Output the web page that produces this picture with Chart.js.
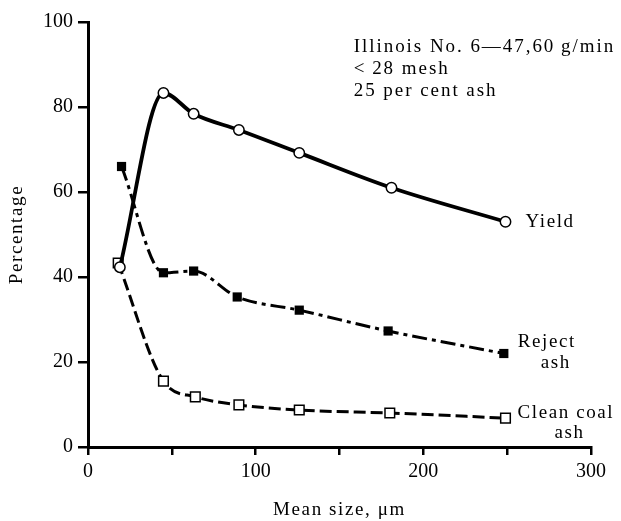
<!DOCTYPE html>
<html><head><meta charset="utf-8">
<script src="https://cdn.jsdelivr.net/npm/chart.js@4"></script>
<style>html,body{margin:0;padding:0;background:#fff}</style>
</head><body>
<canvas id="c" width="621" height="521"></canvas>
<script>
const yieldX = [19, 45, 63, 90, 126, 181, 249];
const yieldY = [42.3, 83.3, 78.4, 74.6, 69.2, 61, 53];
const rejectX = [20, 45, 63, 89, 126, 179, 248];
const rejectY = [66, 41, 41.4, 35.3, 32.2, 27.3, 22];
const cleanX = [18, 45, 64, 90, 126, 180, 249];
const cleanY = [43.3, 15.5, 11.8, 9.9, 8.7, 8, 6.8];
const xTickLabels = [0, 100, 200, 300];
const yTickLabels = [0, 20, 40, 60, 80, 100];
const noteLines = ['Illinois No. 6\u201447,60\u2009g/min', '<\u200928 mesh', '25 per cent ash'];
const seriesLabels = [['Yield'], ['Reject', 'ash'], ['Clean coal', 'ash']];
const xTitle = 'Mean size, \u03bcm';
const yTitle = 'Percentage';

const SERIF = '"Liberation Serif", "DejaVu Serif", serif';
const tickFont = {family: SERIF, size: 20};

function pts(xs, ys) { return xs.map((x, i) => ({x: x, y: ys[i]})); }

const labelPlugin = {
  id: 'labels',
  afterDatasetsDraw(chart) {
    const ctx = chart.ctx;
    const xs = chart.scales.x, ys = chart.scales.y, ca = chart.chartArea;
    ctx.save();
    ctx.fillStyle = '#000';
    ctx.font = '19px ' + SERIF;
    ctx.textBaseline = 'middle';
    ctx.textAlign = 'left';
    try { ctx.letterSpacing = '1.95px'; } catch (e) {}
    // annotation block in data coordinates
    const nx = xs.getPixelForValue(158.5), ny = ys.getPixelForValue(94.1);
    noteLines.forEach((t, i) => ctx.fillText(t, nx, ny + i * 22));
    try { ctx.letterSpacing = '1.6px'; } catch (e) {}
    // series end labels
    const sets = [[yieldX, yieldY], [rejectX, rejectY], [cleanX, cleanY]];
    const offs = [[{dx: 20, dy: 0, al: 'left'}],
                  [{dx: 14, dy: -11, al: 'left'}, {dx: 37, dy: 10, al: 'left'}],
                  [{dx: 12, dy: -5, al: 'left'}, {dx: 49, dy: 15, al: 'left'}]];
    sets.forEach((s, k) => {
      const n = s[0].length - 1;
      const px = xs.getPixelForValue(s[0][n]), py = ys.getPixelForValue(s[1][n]);
      seriesLabels[k].forEach((t, j) => {
        const o = offs[k][j];
        ctx.textAlign = o.al;
        ctx.fillText(t, px + o.dx, py + o.dy);
      });
    });
    // axis titles
    ctx.textAlign = 'center';
    ctx.fillText(xTitle, (ca.left + ca.right) / 2, 510);
    ctx.translate(17, (ca.top + ca.bottom) / 2);
    ctx.rotate(-Math.PI / 2);
    ctx.fillText(yTitle, 0, 0);
    ctx.restore();
  }
};

new Chart(document.getElementById('c'), {
  type: 'scatter',
  data: {datasets: [
    {label: 'Yield', data: pts(yieldX, yieldY), showLine: true, borderColor: '#000', borderWidth: 3.8,
     cubicInterpolationMode: 'monotone', pointStyle: 'circle', pointRadius: 5.2,
     pointBackgroundColor: '#fff', pointBorderColor: '#000', pointBorderWidth: 1.5},
    {label: 'Reject ash', data: pts(rejectX, rejectY), showLine: true, borderColor: '#000', borderWidth: 3,
     borderDash: [15, 5, 4, 5], cubicInterpolationMode: 'monotone', pointStyle: 'rect', pointRadius: 6.5,
     pointBackgroundColor: '#000', pointBorderColor: '#000', pointBorderWidth: 0},
    {label: 'Clean coal ash', data: pts(cleanX, cleanY), showLine: true, borderColor: '#000', borderWidth: 3,
     borderDash: [12, 5], cubicInterpolationMode: 'monotone', pointStyle: 'rect', pointRadius: 6.8,
     pointBackgroundColor: '#fff', pointBorderColor: '#000', pointBorderWidth: 1.5}
  ]},
  options: {
    responsive: false, animation: false, events: [],
    plugins: {legend: {display: false}, tooltip: {enabled: false}},
    layout: {padding: {top: 22, right: 30, left: 0, bottom: 0}},
    scales: {
      x: {
        type: 'linear', min: 0, max: 300,
        ticks: {stepSize: 50, autoSkip: false, maxRotation: 0, color: '#000', font: tickFont, padding: 5,
                callback: v => xTickLabels.includes(v) ? String(v) : ''},
        grid: {drawOnChartArea: false, drawTicks: true, tickLength: 8, color: '#000', lineWidth: 2.5},
        border: {display: true, color: '#000', width: 3},
        title: {display: false},
        afterFit: s => { s.height = 74; }
      },
      y: {
        type: 'linear', min: 0, max: 100,
        ticks: {stepSize: 20, color: '#000', font: tickFont, padding: 5,
                callback: v => yTickLabels.includes(v) ? String(v) : ''},
        grid: {drawOnChartArea: false, drawTicks: true, tickLength: 10, color: '#000', lineWidth: 2.5},
        border: {display: true, color: '#000', width: 3},
        title: {display: false},
        afterFit: s => { s.width = 88; }
      }
    }
  },
  plugins: [labelPlugin]
});
</script>
</body></html>
